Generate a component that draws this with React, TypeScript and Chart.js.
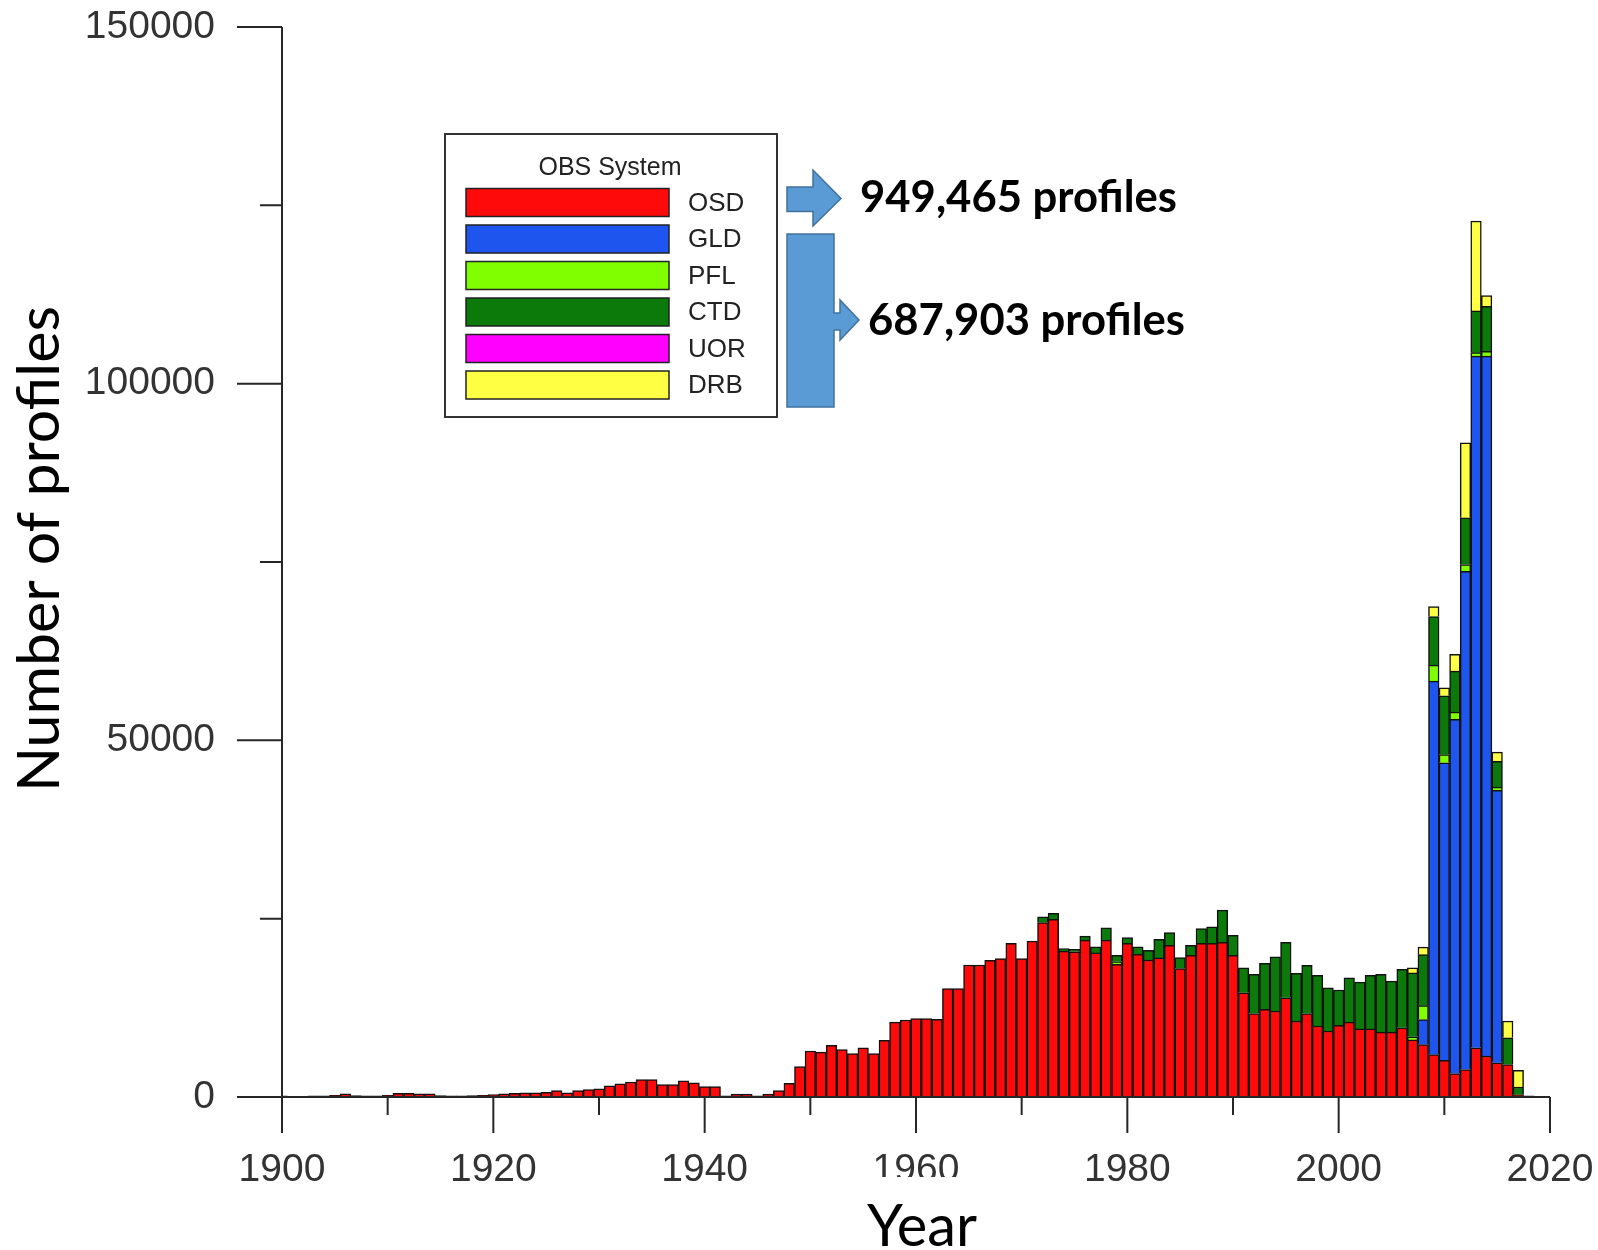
import React, { useEffect, useRef } from 'react';
import { Chart, registerables } from 'chart.js';

Chart.register(...registerables);

// ---------------- DATA ----------------
const YEARS = [
  1900, 1901, 1902, 1903, 1904, 1905, 1906, 1907, 1908, 1909,
  1910, 1911, 1912, 1913, 1914, 1915, 1916, 1917, 1918, 1919,
  1920, 1921, 1922, 1923, 1924, 1925, 1926, 1927, 1928, 1929,
  1930, 1931, 1932, 1933, 1934, 1935, 1936, 1937, 1938, 1939,
  1940, 1941, 1942, 1943, 1944, 1945, 1946, 1947, 1948, 1949,
  1950, 1951, 1952, 1953, 1954, 1955, 1956, 1957, 1958, 1959,
  1960, 1961, 1962, 1963, 1964, 1965, 1966, 1967, 1968, 1969,
  1970, 1971, 1972, 1973, 1974, 1975, 1976, 1977, 1978, 1979,
  1980, 1981, 1982, 1983, 1984, 1985, 1986, 1987, 1988, 1989,
  1990, 1991, 1992, 1993, 1994, 1995, 1996, 1997, 1998, 1999,
  2000, 2001, 2002, 2003, 2004, 2005, 2006, 2007, 2008, 2009,
  2010, 2011, 2012, 2013, 2014, 2015, 2016, 2017, 2018,
];

const OSD = [
  150, 100, 100, 150, 150, 250, 450, 200, 150, 150,
  250, 500, 500, 450, 450, 200, 150, 150, 200, 250,
  350, 450, 500, 600, 600, 650, 900, 600, 900, 1050,
  1150, 1550, 1850, 2100, 2450, 2450, 1750, 1750, 2250, 2000,
  1450, 1450, 150, 400, 400, 150, 400, 900, 1900, 4250,
  6450, 6300, 7250, 6650, 6100, 6900, 6100, 7950, 10500, 10800,
  11000, 11000, 10900, 15200, 15200, 18500, 18500, 19150, 19400, 21550,
  19400, 21850, 24450, 24900, 20450, 20350, 22000, 20200, 22000, 18600,
  21550, 20000, 19200, 19500, 21250, 18000, 19850, 21550, 21550, 21700,
  19850, 14600, 11700, 12300, 12050, 13900, 10650, 11700, 9950, 9250,
  10050, 10500, 9550, 9550, 9100, 9100, 9700, 8000, 7350, 5950,
  5150, 3300, 3850, 6900, 5750, 4800, 4550, 300, 0,
];

const GLD = [
  0, 0, 0, 0, 0, 0, 0, 0, 0, 0,
  0, 0, 0, 0, 0, 0, 0, 0, 0, 0,
  0, 0, 0, 0, 0, 0, 0, 0, 0, 0,
  0, 0, 0, 0, 0, 0, 0, 0, 0, 0,
  0, 0, 0, 0, 0, 0, 0, 0, 0, 0,
  0, 0, 0, 0, 0, 0, 0, 0, 0, 0,
  0, 0, 0, 0, 0, 0, 0, 0, 0, 0,
  0, 0, 0, 0, 0, 0, 0, 0, 0, 0,
  0, 0, 0, 0, 0, 0, 0, 0, 0, 0,
  0, 0, 0, 0, 0, 0, 0, 0, 0, 0,
  0, 0, 0, 0, 0, 0, 0, 0, 3500, 52350,
  41700, 49650, 69850, 96950, 98100, 38200, 0, 0, 0,
];

const PFL = [
  0, 0, 0, 0, 0, 0, 0, 0, 0, 0,
  0, 0, 0, 0, 0, 0, 0, 0, 0, 0,
  0, 0, 0, 0, 0, 0, 0, 0, 0, 0,
  0, 0, 0, 0, 0, 0, 0, 0, 0, 0,
  0, 0, 0, 0, 0, 0, 0, 0, 0, 0,
  0, 0, 0, 0, 0, 0, 0, 0, 0, 0,
  0, 0, 0, 0, 0, 0, 0, 0, 0, 0,
  0, 0, 0, 0, 0, 0, 0, 0, 0, 350,
  0, 0, 0, 0, 0, 0, 0, 0, 0, 0,
  0, 0, 0, 0, 0, 0, 0, 0, 0, 0,
  0, 0, 0, 0, 0, 0, 0, 450, 1950, 2250,
  1150, 1000, 950, 500, 700, 450, 0, 0, 0,
];

const CTD = [
  0, 0, 0, 0, 0, 0, 0, 0, 0, 0,
  0, 0, 0, 0, 0, 0, 0, 0, 0, 0,
  0, 0, 0, 0, 0, 0, 0, 0, 0, 0,
  0, 0, 0, 0, 0, 0, 0, 0, 0, 0,
  0, 0, 0, 0, 0, 0, 0, 0, 0, 0,
  0, 0, 0, 0, 0, 0, 0, 0, 0, 0,
  0, 0, 0, 0, 0, 0, 0, 0, 0, 0,
  0, 0, 800, 850, 350, 350, 550, 850, 1700, 900,
  800, 1050, 1350, 2600, 1800, 1550, 1400, 2050, 2300, 4500,
  2800, 3500, 5500, 6450, 7600, 7800, 6700, 6750, 7100, 6050,
  4950, 6200, 6550, 7500, 8100, 7150, 8200, 8950, 7150, 6800,
  8250, 5750, 6550, 5850, 6300, 3600, 3750, 1100, 150,
];

const UOR = [
  0, 0, 0, 0, 0, 0, 0, 0, 0, 0,
  0, 0, 0, 0, 0, 0, 0, 0, 0, 0,
  0, 0, 0, 0, 0, 0, 0, 0, 0, 0,
  0, 0, 0, 0, 0, 0, 0, 0, 0, 0,
  0, 0, 0, 0, 0, 0, 0, 0, 0, 0,
  0, 0, 0, 0, 0, 0, 0, 0, 0, 0,
  0, 0, 0, 0, 0, 0, 0, 0, 0, 0,
  0, 0, 0, 0, 0, 0, 0, 0, 0, 0,
  0, 0, 0, 0, 0, 0, 0, 0, 0, 0,
  0, 0, 0, 0, 0, 0, 0, 0, 0, 0,
  0, 0, 0, 0, 0, 0, 0, 0, 0, 0,
  0, 0, 0, 0, 0, 0, 0, 0, 0,
];

const DRB = [
  0, 0, 0, 0, 0, 0, 0, 0, 0, 0,
  0, 0, 0, 0, 0, 0, 0, 0, 0, 0,
  0, 0, 0, 0, 0, 0, 0, 0, 0, 0,
  0, 0, 0, 0, 0, 0, 0, 0, 0, 0,
  0, 0, 0, 0, 0, 0, 0, 0, 0, 0,
  0, 0, 0, 0, 0, 0, 0, 0, 0, 0,
  0, 0, 0, 0, 0, 0, 0, 0, 0, 0,
  0, 0, 0, 0, 0, 0, 0, 0, 0, 0,
  0, 0, 0, 0, 0, 0, 0, 0, 0, 0,
  0, 0, 0, 0, 0, 0, 0, 0, 0, 0,
  0, 0, 0, 0, 0, 0, 0, 700, 1050, 1400,
  1100, 2350, 10500, 12600, 1500, 1300, 2350, 2350, 0,
];

const SERIES_NAMES = ['OSD', 'GLD', 'PFL', 'CTD', 'UOR', 'DRB'];
const SERIES_VALUES = [OSD, GLD, PFL, CTD, UOR, DRB];
const SERIES_COLORS = ['#FF0A0A', '#1E55EE', '#80FF00', '#0B7A0B', '#FF00FF', '#FFFF44'];

const X_TICKS = [1900, 1910, 1920, 1930, 1940, 1950, 1960, 1970, 1980, 1990, 2000, 2010, 2020];
const X_LABELED = [1900, 1920, 1940, 1960, 1980, 2000, 2020];
const Y_TICKS = [0, 25000, 50000, 75000, 100000, 125000, 150000];
const Y_LABELED = [0, 50000, 100000, 150000];

const LEGEND_TITLE = 'OBS System';
const TOTAL_ALL = '949,465 profiles';
const TOTAL_MODERN = '687,903 profiles';
const X_TITLE = 'Year';
const Y_TITLE = 'Number of profiles';

// ---------------- STYLE HELPERS ----------------
const ARIAL = "'Liberation Sans', Arial, Helvetica, sans-serif";
const CALIBRI = "Lato, 'Open Sans', sans-serif";

function fitFontSize(ctx: CanvasRenderingContext2D, text: string, targetWidth: number, weight: number, family: string) {
  ctx.font = `${weight} 100px ${family}`;
  const w = ctx.measureText(text).width || 1;
  return (100 * targetWidth) / w;
}

const decorPlugin = {
  id: 'decor',
  afterDraw(chart: any) {
    const ctx: CanvasRenderingContext2D = chart.ctx;
    const xs = chart.scales.x;
    const ys = chart.scales.y;
    const xLeft = xs.getPixelForValue(X_TICKS[0]);
    const xRight = xs.getPixelForValue(X_TICKS[X_TICKS.length - 1]);
    const yBase = ys.getPixelForValue(0);
    const yTop = ys.getPixelForValue(Y_TICKS[Y_TICKS.length - 1]);

    ctx.save();
    // axes + tick marks
    ctx.strokeStyle = '#262626';
    ctx.lineWidth = 2;
    ctx.beginPath();
    ctx.moveTo(xLeft, yTop);
    ctx.lineTo(xLeft, yBase);
    ctx.moveTo(xLeft, yBase);
    ctx.lineTo(xRight, yBase);
    Y_TICKS.forEach((v) => {
      const y = ys.getPixelForValue(v);
      const len = Y_LABELED.includes(v) ? 45 : 22;
      ctx.moveTo(xLeft - len, y);
      ctx.lineTo(xLeft, y);
    });
    X_TICKS.forEach((v) => {
      const x = xs.getPixelForValue(v);
      const len = X_LABELED.includes(v) ? 36 : 18;
      ctx.moveTo(x, yBase);
      ctx.lineTo(x, yBase + len);
    });
    ctx.stroke();

    // white text box behind the x title (clips the 1960 label)
    ctx.fillStyle = '#ffffff';
    ctx.fillRect(840, 1177, 170, 73);

    // axis titles
    ctx.fillStyle = '#000000';
    let fs = fitFontSize(ctx, X_TITLE, 110, 400, CALIBRI);
    ctx.font = `400 ${fs}px ${CALIBRI}`;
    ctx.textAlign = 'center';
    ctx.textBaseline = 'alphabetic';
    ctx.fillText(X_TITLE, 922, 1246);

    fs = fitFontSize(ctx, Y_TITLE, 486, 400, CALIBRI);
    ctx.save();
    ctx.translate(40, 549);
    ctx.rotate(-Math.PI / 2);
    ctx.font = `400 ${fs}px ${CALIBRI}`;
    ctx.textAlign = 'center';
    ctx.textBaseline = 'middle';
    ctx.fillText(Y_TITLE, 0, 0);
    ctx.restore();

    // legend box
    ctx.fillStyle = '#ffffff';
    ctx.fillRect(445, 134, 332, 283);
    ctx.strokeStyle = '#333333';
    ctx.lineWidth = 2;
    ctx.strokeRect(445, 134, 332, 283);
    ctx.fillStyle = '#222222';
    ctx.font = `400 25px ${ARIAL}`;
    ctx.textAlign = 'center';
    ctx.textBaseline = 'alphabetic';
    ctx.fillText(LEGEND_TITLE, 610, 175);
    chart.data.datasets.forEach((ds: any, i: number) => {
      const top = 188.5 + i * 36.5;
      ctx.fillStyle = ds.backgroundColor;
      ctx.fillRect(466, top, 203, 28);
      ctx.strokeStyle = '#222222';
      ctx.lineWidth = 1.5;
      ctx.strokeRect(466, top, 203, 28);
      ctx.fillStyle = '#222222';
      ctx.font = `400 26px ${ARIAL}`;
      ctx.textAlign = 'left';
      ctx.textBaseline = 'middle';
      ctx.fillText(ds.label, 688, top + 15);
    });

    // block arrows
    ctx.fillStyle = '#5B9BD5';
    ctx.strokeStyle = '#41719C';
    ctx.lineWidth = 1.5;
    ctx.beginPath();
    ctx.moveTo(787, 187);
    ctx.lineTo(813, 187);
    ctx.lineTo(813, 170);
    ctx.lineTo(841, 198.5);
    ctx.lineTo(813, 226);
    ctx.lineTo(813, 211.5);
    ctx.lineTo(787, 211.5);
    ctx.closePath();
    ctx.fill();
    ctx.stroke();

    ctx.beginPath();
    ctx.moveTo(787, 234);
    ctx.lineTo(834, 234);
    ctx.lineTo(834, 313);
    ctx.lineTo(840, 313);
    ctx.lineTo(840, 300);
    ctx.lineTo(859, 320);
    ctx.lineTo(840, 340);
    ctx.lineTo(840, 330);
    ctx.lineTo(834, 330);
    ctx.lineTo(834, 407);
    ctx.lineTo(787, 407);
    ctx.closePath();
    ctx.fill();
    ctx.stroke();

    // annotation text
    fs = fitFontSize(ctx, TOTAL_ALL, 317, 700, CALIBRI);
    ctx.font = `700 ${fs}px ${CALIBRI}`;
    ctx.fillStyle = '#000000';
    ctx.textAlign = 'left';
    ctx.textBaseline = 'alphabetic';
    ctx.fillText(TOTAL_ALL, 860, 211.5);
    ctx.fillText(TOTAL_MODERN, 868, 335);

    ctx.restore();
  },
};

export default function App() {
  const ref = useRef<HTMLCanvasElement>(null);

  useEffect(() => {
    document.body.style.margin = '0';
    const canvas = ref.current;
    if (!canvas) return;

    const chart = new Chart(canvas, {
      type: 'bar',
      data: {
        labels: YEARS,
        datasets: SERIES_NAMES.map((name, i) => ({
          label: name,
          data: SERIES_VALUES[i],
          backgroundColor: SERIES_COLORS[i],
          borderColor: '#111111',
          borderWidth: 1.5,
          barPercentage: 1,
          categoryPercentage: 1,
        })),
      },
      options: {
        responsive: false,
        maintainAspectRatio: false,
        devicePixelRatio: 1,
        animation: false,
        layout: { padding: { top: 27, right: 48, bottom: 0, left: 0 } },
        plugins: {
          legend: { display: false },
          tooltip: { enabled: false },
        },
        scales: {
          x: {
            type: 'linear',
            stacked: true,
            min: 1900,
            max: 2020,
            offset: false,
            grid: { display: false, drawTicks: true, tickLength: 50, offset: false },
            border: { display: false },
            afterBuildTicks: (s: any) => {
              s.ticks = X_TICKS.map((v) => ({ value: v }));
            },
            afterFit: (s: any) => {
              s.height = 153;
            },
            ticks: {
              autoSkip: false,
              maxRotation: 0,
              minRotation: 0,
              padding: 0,
              color: '#333333',
              font: { family: ARIAL, size: 39 },
              callback: (v: any) => (X_LABELED.includes(Number(v)) ? String(v) : ''),
            },
          },
          y: {
            type: 'linear',
            stacked: true,
            min: 0,
            max: 150000,
            grid: { display: false, drawTicks: true, tickLength: 67 },
            border: { display: false },
            afterBuildTicks: (s: any) => {
              s.ticks = Y_TICKS.map((v) => ({ value: v }));
            },
            afterFit: (s: any) => {
              s.width = 282;
            },
            ticks: {
              padding: 0,
              color: '#333333',
              font: { family: ARIAL, size: 39 },
              callback: (v: any) => (Y_LABELED.includes(Number(v)) ? String(v) : ''),
            },
          },
        },
      },
      plugins: [decorPlugin],
    } as any);

    return () => chart.destroy();
  }, []);

  return (
    <div style={{ width: 1598, height: 1250, background: '#ffffff' }}>
      <canvas ref={ref} width={1598} height={1250} style={{ display: 'block' }} />
    </div>
  );
}
